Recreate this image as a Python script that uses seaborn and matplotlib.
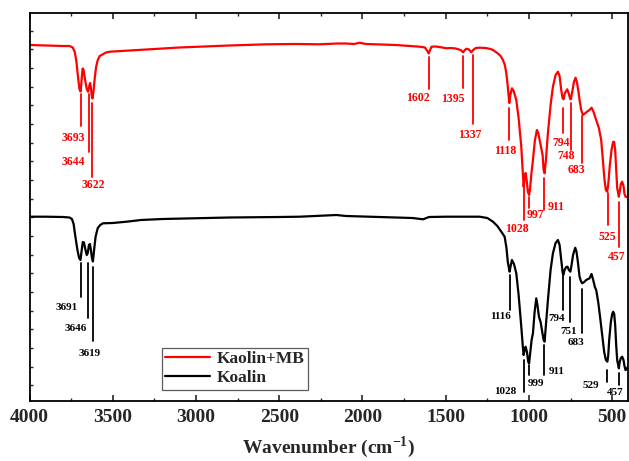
import numpy as np
import pandas as pd
import matplotlib
matplotlib.use("Agg")
import matplotlib.pyplot as plt
from matplotlib.ticker import MultipleLocator, FixedLocator, NullFormatter
import seaborn as sns

# FTIR transmittance (arbitrary units, higher = more transmission)
kaolin_mb_wn = [4000, 3900, 3800, 3760, 3740, 3728, 3718, 3708, 3700, 3693, 3687, 3681, 3675,
                3666, 3656, 3648, 3641, 3636, 3631, 3626, 3622, 3616, 3608, 3600, 3590, 3578,
                3567, 3540, 3517, 3417, 3300, 3200, 3100, 2977, 2800, 2576, 2400, 2256, 2150,
                2100, 2050, 2016, 1980, 1800, 1656, 1625, 1610, 1602, 1594, 1585, 1560, 1520,
                1496, 1470, 1440, 1410, 1395, 1385, 1375, 1360, 1346, 1335, 1320, 1296, 1260,
                1230, 1216, 1190, 1170, 1156, 1145, 1136, 1128, 1118, 1112, 1102, 1092, 1076,
                1062, 1046, 1038, 1032, 1026, 1020, 1014, 1006, 999, 994, 986, 976, 964, 952,
                944, 936, 928, 918, 912, 906, 898, 886, 870, 856, 840, 826, 816, 806, 798,
                792, 784, 770, 760, 752, 748, 740, 730, 720, 712, 704, 696, 686, 676, 660,
                646, 636, 624, 614, 604, 596, 580, 566, 556, 546, 538, 530, 524, 514, 504,
                494, 488, 482, 476, 470, 460, 455, 448, 440, 432, 426, 420, 412, 406]
kaolin_mb_t = [356, 355.5, 355, 355, 353.5, 349, 339, 323, 312, 309.5, 321, 332.5, 331,
               321, 312, 309.3, 315, 318, 313, 305, 302.5, 309, 323, 334, 341, 345,
               346, 348.5, 349.3, 350.3, 351.5, 352.5, 353.5, 354.3, 355.5, 356.7, 357, 356.7, 357.5,
               357.5, 357, 358.3, 357, 356, 354.3, 353.5, 350, 347.5, 351, 354.3, 354.5, 353.5,
               352.7, 353, 352.5, 351, 348.7, 351, 352.3, 351.5, 348.7, 351, 353, 353.3, 353,
               352, 351, 348, 345, 341, 336, 328, 316, 298, 306, 312.7, 310, 301,
               283, 254.3, 231, 214.3, 223, 228, 221, 209, 206, 211, 226, 241, 261, 271,
               268, 261, 254.3, 246, 231, 227.7, 241, 268, 296, 314.3, 326, 329.3, 325, 311, 303,
               301.7, 308, 311.7, 307, 302, 301.7, 309, 319, 323.3, 319, 311, 301, 291, 286, 288,
               290, 291, 293.3, 290, 285, 281, 273, 261, 241, 221, 211, 209.3, 216, 236, 251,
               259.3, 259, 251, 231, 213, 204.3, 209, 217, 219.3, 215, 207, 204.3, 204, 205]

kaolin_wn = [4000, 3900, 3800, 3760, 3745, 3735, 3725, 3712, 3702, 3694, 3686, 3680, 3673,
             3665, 3656, 3650, 3643, 3637, 3631, 3625, 3619, 3612, 3603, 3590, 3575, 3559,
             3500, 3417, 3330, 3200, 3000, 2800, 2500, 2376, 2156, 2100, 1900, 1700, 1636,
             1600, 1500, 1296, 1250, 1216, 1190, 1166, 1146, 1135, 1127, 1116, 1110, 1102,
             1090, 1076, 1062, 1046, 1036, 1032, 1026, 1020, 1012, 1004, 999, 994, 984, 976,
             966, 956, 948, 940, 930, 920, 912, 906, 898, 886, 870, 856, 840, 826, 816, 806,
             798, 794, 786, 776, 768, 760, 751, 744, 735, 722, 714, 706, 696, 688, 680, 668,
             656, 644, 636, 624, 614, 604, 596, 584, 572, 560, 548, 538, 529, 524, 518, 508,
             500, 494, 488, 482, 476, 470, 460, 455, 448, 440, 432, 426, 420, 412, 406]
kaolin_t = [184.3, 184.3, 184, 183.5, 182, 177, 165, 151, 143, 141, 151, 159, 158.5,
            152, 146, 148, 156, 157, 151, 143, 139.5, 151, 164.3, 173, 176, 177.7,
            178, 179.3, 181, 182, 182.7, 183.5, 184, 184.3, 186, 185, 184, 183, 181.7,
            184, 184.3, 184.3, 183, 179.3, 175, 169.3, 164.3, 153, 139, 129.3, 135, 141,
            137, 127.7, 106, 74.3, 53, 46, 51, 54.3, 49, 39, 37.7, 46, 61, 67.7,
            89, 102.7, 95, 84.3, 79, 69, 61, 59.3, 76, 101, 131, 147.7, 158, 161, 156, 141,
            129, 126, 131, 134, 134.3, 131, 129.3, 136, 146, 153.3, 149, 139, 124.3, 120, 117.7, 119,
            121, 122, 122.7, 127, 121, 114, 111, 99, 83, 66, 49, 41, 39.3, 45, 61, 79,
            87, 89.3, 87, 76, 56, 41, 32.7, 39, 43, 44.3, 41, 35, 31, 32, 34.3]

# Band assignments shown on each trace
kaolin_mb_bands = [3693, 3644, 3622, 1602, 1395, 1337, 1118, 1028, 997, 911, 794, 748, 683, 525, 457]
kaolin_bands = [3691, 3646, 3619, 1116, 1028, 999, 911, 794, 751, 683, 529, 457]

# Marker line extents (y0, y1) and label anchor (x, y) for each band label
mb_layout = [(307, 275, 3739, 263), (307, 249, 3739, 239), (298, 224, 3619, 216),
             (344, 312, 1668, 303), (345, 313, 1458, 302), (346, 277, 1356, 266),
             (293, 261, 1141, 250), (214, 181, 1075, 171.7), (204, 193, 959, 186),
             (223, 191, 839, 194), (293, 268, 805, 257.7), (298, 251, 775, 245),
             (285, 238, 715, 231), (208, 176, 531, 164.3), (199, 154, 473, 144.3)]
k_layout = [(138, 104, 3777, 93.7), (138, 83, 3721, 72.7), (134, 60, 3637, 47),
            (126, 91, 1169, 84.3), (41, 9, 1145, 9.3), (36, 26, 955, 17.7),
            (56, 26, 831, 29.3), (126, 91, 835, 82.7), (124, 79, 759, 70),
            (112, 68, 715, 58.3), (31, 19, 625, 16), (28, 16, 481, 8.3)]

sns.set_theme(style="white")
plt.rcParams["font.family"] = ["Liberation Serif", "DejaVu Serif"]
plt.rcParams["font.weight"] = "bold"
plt.rcParams["mathtext.fontset"] = "custom"
plt.rcParams["mathtext.rm"] = "Liberation Serif:bold"
plt.rcParams["mathtext.bf"] = "Liberation Serif:bold"

fig = plt.figure(figsize=(6.29, 4.61), dpi=100)
ax = fig.add_axes([29.5 / 629, 1 - 401 / 461, 598.5 / 629, 388 / 461])

df_mb = pd.DataFrame({"wn": kaolin_mb_wn, "T": kaolin_mb_t})
df_k = pd.DataFrame({"wn": kaolin_wn, "T": kaolin_t})
sns.lineplot(data=df_mb, x="wn", y="T", color="#ff0000", lw=1.6, ax=ax,
             estimator=None, label="Kaolin+MB")
sns.lineplot(data=df_k, x="wn", y="T", color="black", lw=1.6, ax=ax,
             estimator=None, label="Koalin")

for band, (y0, y1, tx, ty) in zip(kaolin_mb_bands, mb_layout):
    ax.plot([band, band], [y0, y1], color="#ff0000", lw=1.3)
    ax.text(tx, ty, str(band), color="#ff0000", fontsize=8.5, fontweight="bold",
            ha="center", va="center")
for band, (y0, y1, tx, ty) in zip(kaolin_bands, k_layout):
    ax.plot([band, band], [y0, y1], color="black", lw=1.3)
    ax.text(tx, ty, str(band), color="black", fontsize=8, fontweight="bold",
            ha="center", va="center")

ax.set_xlim(4000, 405)
ax.set_ylim(0, 388)
ax.xaxis.set_major_locator(MultipleLocator(500))
ax.xaxis.set_minor_locator(MultipleLocator(250))
ax.yaxis.set_major_locator(FixedLocator(np.arange(15.7, 388, 18.67)))
ax.yaxis.set_major_formatter(NullFormatter())
ax.tick_params(axis="x", which="major", direction="in", length=4.5, width=1.2,
               top=True, bottom=True, labelsize=14, pad=6)
ax.tick_params(axis="x", which="minor", direction="in", length=2.5, width=1,
               top=True, bottom=True)
ax.tick_params(axis="y", which="major", direction="in", length=2.5, width=1,
               left=True, right=False)
for lbl in ax.get_xticklabels():
    lbl.set_fontweight("bold")
for s in ax.spines.values():
    s.set_color("black")
    s.set_linewidth(1.3)

ax.set_xlabel(r"Wavenumber (cm$^{\mathbf{-1}}$)", fontsize=14, fontweight="bold", labelpad=6)
ax.set_ylabel("")

leg = ax.legend(loc="lower left", bbox_to_anchor=(132 / 598.5, 11.5 / 388),
                frameon=True, fancybox=False, fontsize=12.5, handlelength=2.6,
                borderpad=0.2, labelspacing=0.15, handletextpad=0.4, borderaxespad=0)
leg.get_frame().set_edgecolor("#333333")
leg.get_frame().set_linewidth(0.9)
for t in leg.get_texts():
    t.set_fontweight("bold")

fig.savefig("out.png", dpi=100)
